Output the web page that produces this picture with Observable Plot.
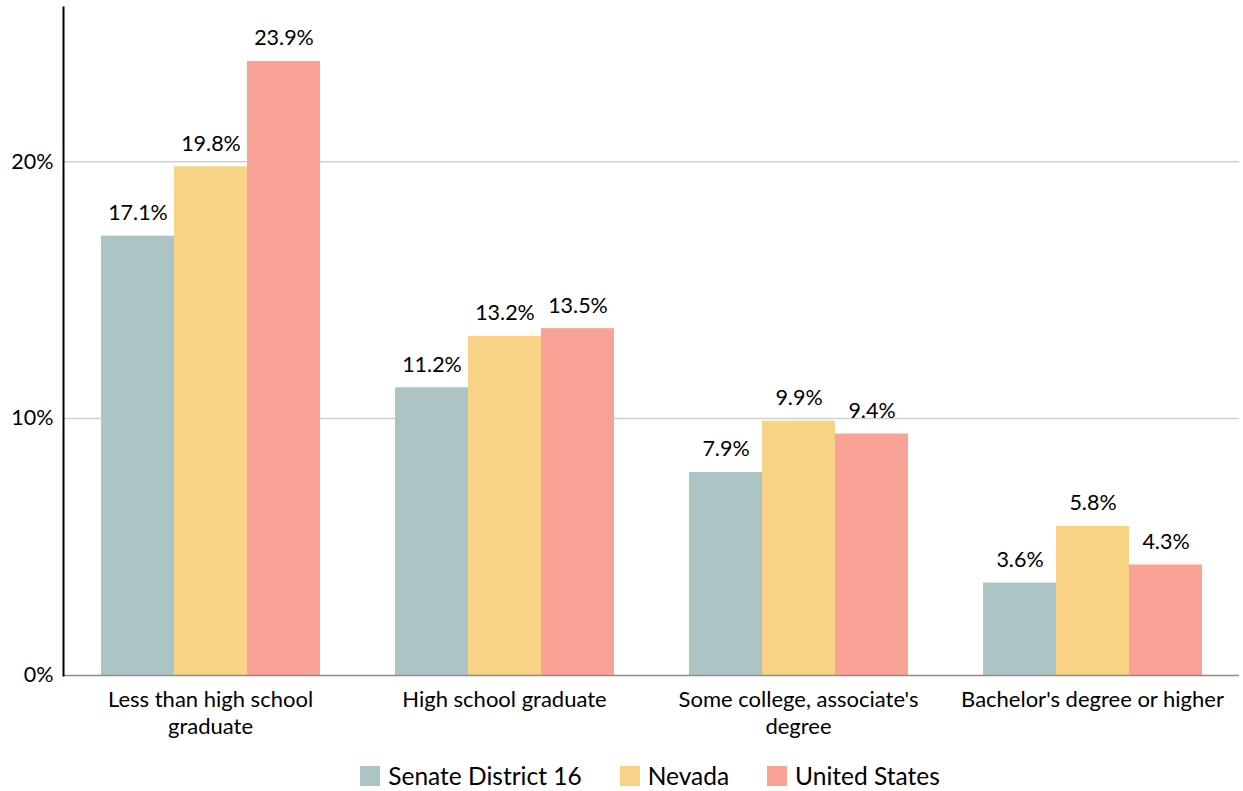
<!DOCTYPE html>
<html>
<head>
<meta charset="utf-8">
<script src="https://cdn.jsdelivr.net/npm/d3@7"></script>
<script src="https://cdn.jsdelivr.net/npm/@observablehq/plot@0.6"></script>
<style>
  html, body { margin: 0; padding: 0; background: #fff; }
  #chart { width: 1243px; }
  .legend { display: flex; justify-content: center; align-items: center; gap: 38px; line-height: 1.2;
    font-family: Lato, sans-serif; font-size: 24.5px; color: #000; padding-left: 60px; padding-right: 3px; margin-top: 13px; }
  .legend .item { display: flex; align-items: center; gap: 8px; }
  .legend .sw { width: 20px; height: 20px; display: inline-block; }
</style>
</head>
<body>
<div id="chart"></div>
<script>
const categories = ["Less than high school graduate", "High school graduate", "Some college, associate's degree", "Bachelor's degree or higher"];
const categoryLabels = ["Less than high school\ngraduate", "High school graduate", "Some college, associate's\ndegree", "Bachelor's degree or higher"];
const series = ["Senate District 16", "Nevada", "United States"];
const district16 = [17.1, 11.2, 7.9, 3.6];
const nevada = [19.8, 13.2, 9.9, 5.8];
const unitedStates = [23.9, 13.5, 9.4, 4.3];
const colors = ["#adc4c5", "#f8d385", "#f8a395"];
const yTicks = [0, 10, 20];

const seriesValues = [district16, nevada, unitedStates];
const data = [];
categories.forEach((c, i) => {
  series.forEach((s, j) => {
    data.push({category: c, series: s, value: seriesValues[j][i]});
  });
});

const plot = Plot.plot({
  width: 1243,
  height: 748,
  marginLeft: 63,
  marginRight: 4,
  marginTop: 7,
  marginBottom: 73,
  style: {fontFamily: "Lato, sans-serif", fontSize: "21px", color: "#000", background: "#fff"},
  fx: {domain: categories, paddingInner: 0, paddingOuter: 0, label: null, axis: null},
  x: {domain: series, paddingInner: 0, paddingOuter: 0.5, axis: null},
  y: {domain: [0, 26], label: null},
  color: {domain: series, range: colors},
  marks: [
    Plot.gridY(yTicks.slice(1), {stroke: "#d0d0d0", strokeOpacity: 1, strokeWidth: 1.5}),
    Plot.barY(data, {fx: "category", x: "series", y: "value", fill: "series"}),
    Plot.ruleY([0], {stroke: "#8c8c8c", strokeWidth: 1.5}),
    Plot.frame({anchor: "left", facet: "super", stroke: "#000", strokeWidth: 2}),
    Plot.text(data, {fx: "category", x: "series", y: "value", text: d => d.value.toFixed(1) + "%", dy: -23, fontSize: 21.5, fill: "#000"}),
    Plot.axisY(yTicks, {tickSize: 0, tickPadding: 10, tickFormat: d => d + "%", fontSize: 21.5, label: null}),
    Plot.axisFx({anchor: "bottom", tickSize: 0, tickPadding: 13, lineAnchor: "top", lineHeight: 1.2, fontSize: 22, label: null,
      tickFormat: d => categoryLabels[categories.indexOf(d)]})
  ]
});
document.getElementById("chart").appendChild(plot);

const legend = document.createElement("div");
legend.className = "legend";
series.forEach((s, j) => {
  const item = document.createElement("div");
  item.className = "item";
  const sw = document.createElement("span");
  sw.className = "sw";
  sw.style.background = colors[j];
  const t = document.createElement("span");
  t.textContent = s;
  item.appendChild(sw);
  item.appendChild(t);
  legend.appendChild(item);
});
document.getElementById("chart").appendChild(legend);
</script>
</body>
</html>
